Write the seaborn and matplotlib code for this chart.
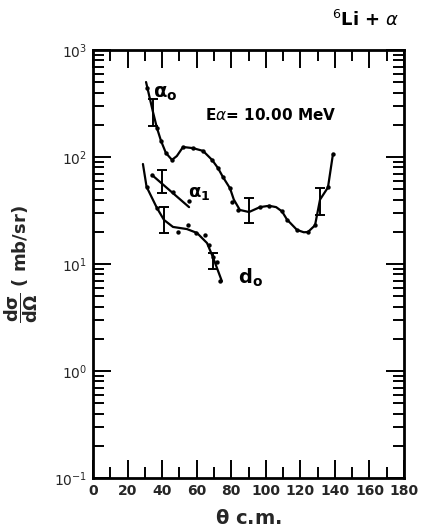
import numpy as np
import pandas as pd
import matplotlib
matplotlib.use("Agg")
import matplotlib.pyplot as plt
import seaborn as sns
from matplotlib.ticker import LogLocator, MultipleLocator, NullFormatter

# ---- data ----
a0_curve_theta = [30.7, 34.7, 37.0, 39.4, 42.2, 45.7, 48.5, 52.1, 57.9, 63.7, 68.9, 72.3, 75.2, 79.3,
                  81.5, 85.0, 90.3, 96.6, 101.9, 106.0, 109.4, 112.3, 118.1, 122.0, 124.4, 128.5, 131.4, 136.0, 138.9]
a0_curve_val = [502, 264, 187, 141, 109, 94, 102, 124, 121, 114, 94, 79, 65, 51,
                40, 32, 30.6, 34, 35, 34, 31, 26, 20.8, 19.8, 19.9, 23, 40, 52, 107]
a0_pts_theta = [31.3, 37.0, 39.4, 42.2, 45.7, 52.1, 57.9, 63.7, 68.9, 72.3, 75.2, 79.3, 80.4, 83.9,
                96.6, 101.9, 109.4, 112.3, 118.1, 124.4, 128.5, 136.0, 138.9]
a0_pts_val = [441, 187, 141, 109, 94, 124, 121, 114, 94, 79, 65, 51, 38, 32,
              34, 35, 31, 26, 20.8, 19.9, 23, 52, 107]
a0_err_theta = [34.7, 90.3, 131.4]
a0_err_lo = [195, 24, 29]
a0_err_hi = [348, 41, 51]

a1_curve_theta = [34.1, 55.6]
a1_curve_val = [68, 34]
a1_pts_theta = [34.1, 46.3, 55.6]
a1_pts_val = [68, 47, 39]
a1_err_theta = [39.9]
a1_err_lo = [46]
a1_err_hi = [76]

d0_curve_theta = [28.9, 31.0, 37.0, 41.1, 46.3, 54.4, 60.2, 66.0, 69.4, 74.6]
d0_curve_val = [86, 52.7, 33.4, 25.8, 22.2, 21.2, 19.5, 15.7, 11.6, 6.9]
d0_pts_theta = [31.0, 37.0, 49.2, 55.0, 59.6, 64.8, 67.1, 69.4, 71.8, 73.5]
d0_pts_val = [52.7, 33.4, 19.9, 23.1, 19.5, 18.7, 15.1, 11.6, 10.4, 6.9]
d0_err_theta = [41.1, 69.5]
d0_err_lo = [19.5, 8.9]
d0_err_hi = [34, 12.8]

x_ticks = [0, 20, 40, 60, 80, 100, 120, 140, 160, 180]

# ---- figure ----
sns.set_style("ticks")
plt.rcParams['font.family'] = ['DejaVu Sans']
plt.rcParams['mathtext.fontset'] = 'dejavusans'

fig = plt.figure(figsize=(4.22, 5.28), dpi=100)
ax = fig.add_axes([93/422, 1-478/528, (404-93)/422, (478-50)/528])
ax.set_yscale('log')
ax.set_xlim(0, 180)
ax.set_ylim(0.1, 1000)

def draw(ct, cv, pt, pv, et, elo, ehi):
    dfc = pd.DataFrame({'theta': ct, 'val': cv})
    sns.lineplot(data=dfc, x='theta', y='val', ax=ax, color='black', lw=1.6,
                 sort=False, estimator=None)
    dfp = pd.DataFrame({'theta': pt, 'val': pv})
    sns.scatterplot(data=dfp, x='theta', y='val', ax=ax, color='black', s=10,
                    edgecolor='black', linewidth=0, zorder=5)
    for t, lo, hi in zip(et, elo, ehi):
        mid = np.sqrt(lo * hi)
        ax.errorbar([t], [mid], yerr=[[mid - lo], [hi - mid]], fmt='none',
                    ecolor='black', elinewidth=1.4, capsize=3.5, capthick=1.4)

draw(a0_curve_theta, a0_curve_val, a0_pts_theta, a0_pts_val, a0_err_theta, a0_err_lo, a0_err_hi)
draw(a1_curve_theta, a1_curve_val, a1_pts_theta, a1_pts_val, a1_err_theta, a1_err_lo, a1_err_hi)
draw(d0_curve_theta, d0_curve_val, d0_pts_theta, d0_pts_val, d0_err_theta, d0_err_lo, d0_err_hi)

# ---- ticks / spines ----
ax.xaxis.set_major_locator(MultipleLocator(20))
ax.xaxis.set_minor_locator(MultipleLocator(10))
ax.set_xticks(x_ticks)
ax.set_xticklabels([str(v) for v in x_ticks], fontsize=10, fontweight='bold')
ax.yaxis.set_major_locator(LogLocator(base=10, numticks=10))
ax.yaxis.set_minor_locator(LogLocator(base=10, subs=np.arange(2, 10), numticks=10))
ax.yaxis.set_minor_formatter(NullFormatter())
ax.tick_params(which='both', direction='in', top=True, right=True, color='black', width=1.4)
ax.tick_params(which='major', length=13, labelsize=10, pad=4)
ax.tick_params(which='minor', length=8)
for sp in ax.spines.values():
    sp.set_linewidth(2.0)
    sp.set_color('black')

ax.set_xlabel(r'$\mathbf{\theta}$ c.m.', fontsize=14, fontweight='bold', labelpad=8)
ax.set_ylabel(r'$\mathbf{\dfrac{d\sigma}{d\Omega}}$ ( mb/sr)', fontsize=13, fontweight='bold', labelpad=10)

# ---- annotations ----
ax.text(35, 360, r'$\mathbf{\alpha_o}$', fontsize=14, color='black')
ax.text(65, 220, r'E$\alpha$= 10.00 MeV', fontsize=11, fontweight='bold', color='black')
ax.text(55, 42, r'$\mathbf{\alpha_1}$', fontsize=13, color='black')
ax.text(84, 6.5, r'$\mathbf{d_o}$', fontsize=14, color='black')
fig.text(400/422, 1-30/528, r'$^{6}$Li + $\alpha$', fontsize=13, fontweight='bold',
         ha='right', va='bottom', color='black')

fig.savefig('out.png', dpi=100, facecolor='white')
